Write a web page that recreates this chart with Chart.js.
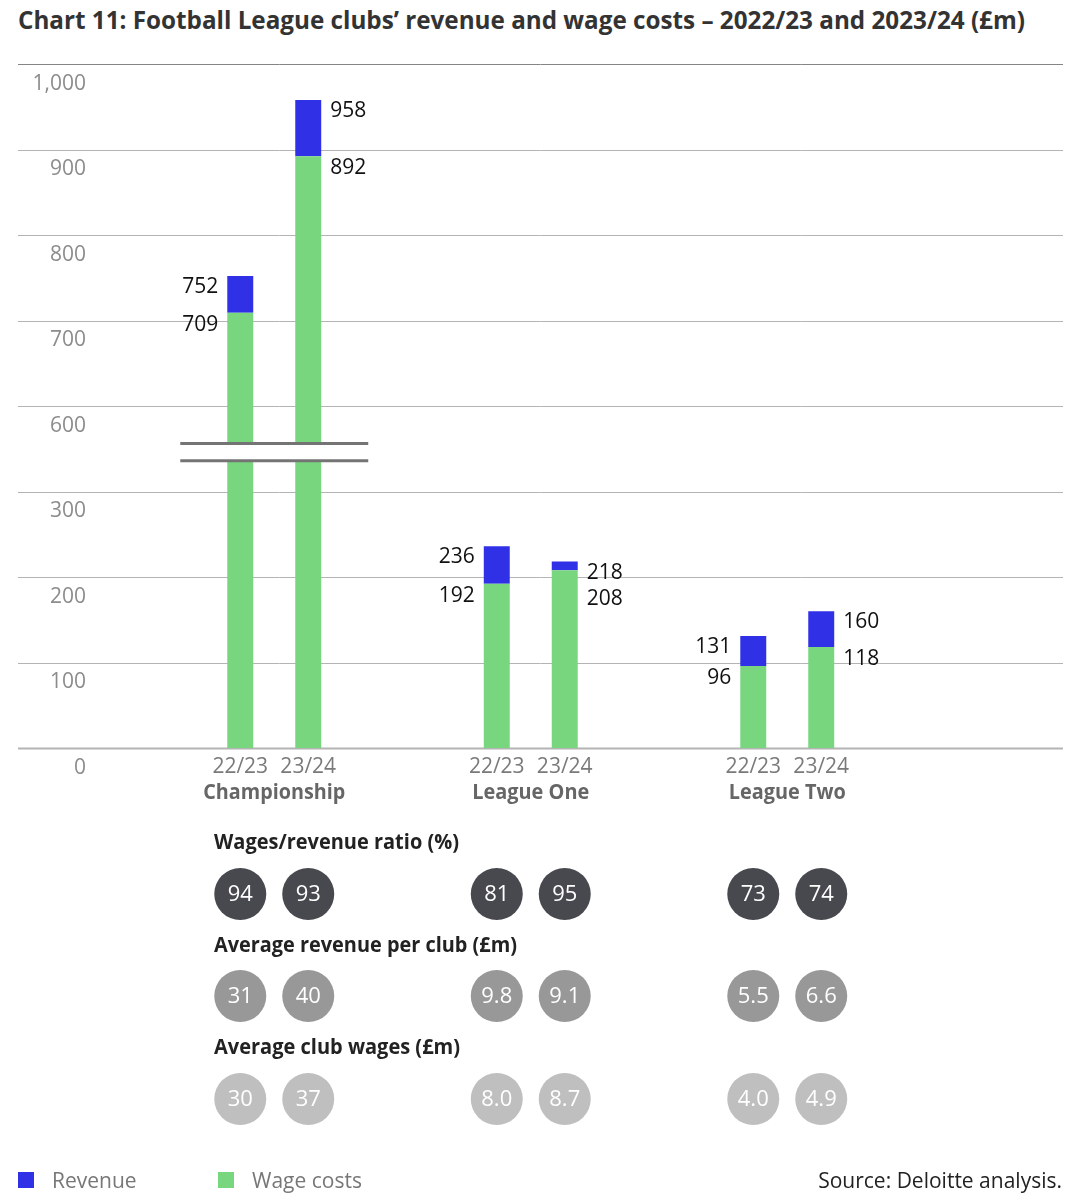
<!DOCTYPE html>
<html>
<head>
<meta charset="utf-8">
<script src="https://cdn.jsdelivr.net/npm/chart.js@4.4.1/dist/chart.umd.min.js"></script>
<style>
    html, body { margin: 0; padding: 0; background: #fff; }
    body { width: 1080px; height: 1200px; position: relative; overflow: hidden; font-family: "Open Sans", sans-serif; }
    #title { position: absolute; left: 18px; top: 2px; font-weight: 700; font-size: 25px; color: #333; white-space: nowrap; transform-origin: left top; }
    #chart { position: absolute; left: 0; top: 0; }
    .legend { position: absolute; top: 1166px; font-size: 21px; color: #777; display: flex; align-items: center; }
    .swatch { width: 16px; height: 16px; margin-right: 18px; }
    #source { position: absolute; right: 18px; top: 1166px; font-size: 21px; color: #222; }
</style>
</head>
<body>
<div id="title">Chart 11: Football League clubs’ revenue and wage costs – 2022/23 and 2023/24 (£m)</div>
<canvas id="chart" width="1080" height="1200"></canvas>
<div class="legend" style="left:18px"><div class="swatch" style="background:#3030e6"></div>Revenue</div>
<div class="legend" style="left:218px"><div class="swatch" style="background:#78d67f"></div>Wage costs</div>
<div id="source">Source: Deloitte analysis.</div>

<script>
const leagues = ['Championship', 'League One', 'League Two'];
const seasons = ['22/23', '23/24'];

const revenue2223 = [752, 236, 131];
const revenue2324 = [958, 218, 160];
const wages2223 = [709, 192, 96];
const wages2324 = [892, 208, 118];

const ratio2223 = [94, 81, 73];
const ratio2324 = [93, 95, 74];
const avgRevenue2223 = [31, 9.8, 5.5];
const avgRevenue2324 = [40, 9.1, 6.6];
const avgWages2223 = [30, 8.0, 4.0];
const avgWages2324 = [37, 8.7, 4.9];

const yTicks = [0, 100, 200, 300, 600, 700, 800, 900, 1000];

const BLUE = '#3030e6';
const GREEN = '#78d67f';

// axis is broken between 300 and 600: those two sit one step apart
const breakLow = 300, breakHigh = 600, step = 100;
const gap = breakHigh - breakLow - step;
const toAxis = v => v <= breakLow ? v : v - gap;
const fromAxis = a => a <= breakLow ? a : a + gap;

const revenue = [revenue2223, revenue2324];
const wages = [wages2223, wages2324];
const circleRows = [
    { title: 'Wages/revenue ratio (%)', values: [ratio2223, ratio2324], fill: '#48494e', titleY: 843, y: 894, width: 245 },
    { title: 'Average revenue per club (£m)', values: [avgRevenue2223, avgRevenue2324], fill: '#989898', titleY: 946, y: 996, width: 303 },
    { title: 'Average club wages (£m)', values: [avgWages2223, avgWages2324], fill: '#bfbfbf', titleY: 1048, y: 1099, width: 246 }
];

function fmt(v) {
    return v >= 10 ? String(v) : v.toFixed(1);
}

function fitText(ctx, text, x, y, width) {
    const w = ctx.measureText(text).width;
    const k = Math.min(1, width / w);
    ctx.save();
    ctx.translate(x, y);
    ctx.scale(k, 1);
    ctx.fillText(text, 0, 0);
    ctx.restore();
}

const extras = {
    id: 'extras',
    beforeDatasetsDraw(chart) {
        const ctx = chart.ctx;
        const y = chart.scales.y;
        ctx.save();
        yTicks.forEach((v, i) => {
            const py = Math.round(y.getPixelForValue(toAxis(v))) + 0.5;
            ctx.beginPath();
            ctx.strokeStyle = i === yTicks.length - 1 ? '#858585' : '#b4b4b4';
            ctx.lineWidth = v === 0 ? 2 : 1;
            ctx.moveTo(18, py);
            ctx.lineTo(1063, py);
            ctx.stroke();
        });
        ctx.restore();
    },
    afterDatasetsDraw(chart) {
        const ctx = chart.ctx;
        const x = chart.scales.x;
        const y = chart.scales.y;
        ctx.save();

        // break marks on groups that go past the gap
        leagues.forEach((name, i) => {
            if (Math.max(revenue2223[i], revenue2324[i]) < breakHigh) return;
            const a = chart.getDatasetMeta(0).data[i];
            const b = chart.getDatasetMeta(1).data[i];
            const top = y.getPixelForValue(breakLow + 56);
            const bottom = y.getPixelForValue(breakLow + 36);
            ctx.fillStyle = '#fff';
            ctx.fillRect(a.x - 60, top, b.x - a.x + 120, bottom - top);
            ctx.strokeStyle = '#747474';
            ctx.lineWidth = 3;
            [top, bottom].forEach(py => {
                ctx.beginPath();
                ctx.moveTo(a.x - 60, py);
                ctx.lineTo(b.x + 60, py);
                ctx.stroke();
            });
        });

        // value labels and season labels
        ctx.font = '21px "Open Sans"';
        ctx.textBaseline = 'middle';
        seasons.forEach((season, s) => {
            leagues.forEach((name, i) => {
                const wBar = chart.getDatasetMeta(s).data[i];
                const rBar = chart.getDatasetMeta(2 + s).data[i];
                const half = wBar.width / 2;
                const lx = s === 0 ? wBar.x - half - 9 : wBar.x + half + 9;
                ctx.textAlign = s === 0 ? 'right' : 'left';
                ctx.fillStyle = '#111';
                const ry = rBar.y + 11;
                const wy = Math.max(wBar.y + 12, ry + 26);
                ctx.fillText(String(revenue[s][i]), lx, ry);
                ctx.fillText(String(wages[s][i]), lx, wy);

                ctx.textAlign = 'center';
                ctx.fillStyle = '#7a7a7a';
                ctx.fillText(season, wBar.x, 767);
            });
        });

        // league names
        ctx.font = 'bold 21px "Open Sans"';
        ctx.fillStyle = '#666';
        ctx.textAlign = 'center';
        const leagueWidths = [142, 117, 117];
        leagues.forEach((name, i) => {
            fitText(ctx, name, x.getPixelForValue(i), 793, leagueWidths[i]);
        });

        // circle rows
        circleRows.forEach(row => {
            ctx.font = 'bold 21px "Open Sans"';
            ctx.fillStyle = '#222';
            ctx.textAlign = 'left';
            fitText(ctx, row.title, 214, row.titleY, row.width);
            seasons.forEach((season, s) => {
                leagues.forEach((name, i) => {
                    const bar = chart.getDatasetMeta(s).data[i];
                    ctx.beginPath();
                    ctx.fillStyle = row.fill;
                    ctx.arc(bar.x, row.y, 26, 0, Math.PI * 2);
                    ctx.fill();
                    ctx.font = '22px "Open Sans"';
                    ctx.fillStyle = '#fff';
                    ctx.textAlign = 'center';
                    ctx.fillText(fmt(row.values[s][i]), bar.x, row.y + 1);
                });
            });
        });
        ctx.restore();
    }
};

function drawChart() {
    const title = document.getElementById('title');
    const tw = title.getBoundingClientRect().width;
    title.style.transform = 'scaleX(' + (1007 / tw) + ')';

    const ctx = document.getElementById('chart').getContext('2d');
    new Chart(ctx, {
        type: 'bar',
        data: {
            labels: leagues,
            datasets: [
                { label: 'Wage costs', data: wages2223.map(toAxis), stack: seasons[0], backgroundColor: GREEN },
                { label: 'Wage costs', data: wages2324.map(toAxis), stack: seasons[1], backgroundColor: GREEN },
                { label: 'Revenue', data: revenue2223.map((r, i) => [toAxis(wages2223[i]), toAxis(r)]), stack: seasons[0], backgroundColor: BLUE },
                { label: 'Revenue', data: revenue2324.map((r, i) => [toAxis(wages2324[i]), toAxis(r)]), stack: seasons[1], backgroundColor: BLUE }
            ]
        },
        options: {
            responsive: false,
            animation: false,
            categoryPercentage: 0.53,
            barPercentage: 0.382,
            borderWidth: 0,
            layout: { padding: { left: 18, right: 164.5, top: 64, bottom: 452 } },
            plugins: { legend: { display: false }, tooltip: { enabled: false } },
            scales: {
                x: { display: false, grid: { display: false } },
                y: {
                    stacked: false,
                    min: 0,
                    max: toAxis(1000),
                    afterBuildTicks: s => { s.ticks = yTicks.map(v => ({ value: toAxis(v) })); },
                    afterFit: s => {
                        s.width = 128;
                        s.paddingTop = 0;
                        s.paddingBottom = 0;
                    },
                    grid: { display: false, drawTicks: false },
                    border: { display: false },
                    ticks: {
                        padding: 60,
                        labelOffset: 20,
                        color: '#8c8c8c',
                        font: { family: 'Open Sans', size: 21 },
                        callback: v => fromAxis(v).toLocaleString('en-GB')
                    }
                }
            }
        },
        plugins: [extras]
    });
}

document.addEventListener('DOMContentLoaded', drawChart);
</script>
</body>
</html>
